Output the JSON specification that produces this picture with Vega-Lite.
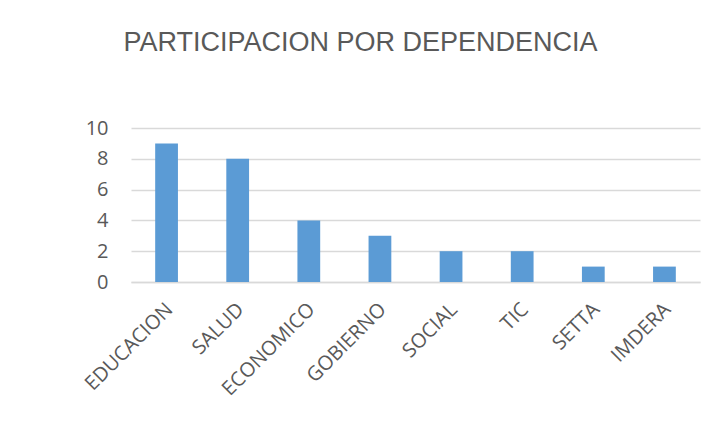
{
  "$schema": "https://vega.github.io/schema/vega-lite/v6.json",
  "autosize": {"type": "none"},
  "width": 569,
  "height": 154,
  "padding": {"left": 131, "top": 128, "right": 5, "bottom": 144},
  "background": "white",
  "title": {
    "text": "PARTICIPACION POR DEPENDENCIA",
    "font": "Liberation Sans",
    "fontSize": 27,
    "fontWeight": "normal",
    "color": "#595959",
    "anchor": "middle",
    "baseline": "alphabetic",
    "dx": -55,
    "offset": 40
  },
  "data": {
    "values": [
      {"dependencia": "EDUCACION", "participacion": 9},
      {"dependencia": "SALUD", "participacion": 8},
      {"dependencia": "ECONOMICO", "participacion": 4},
      {"dependencia": "GOBIERNO", "participacion": 3},
      {"dependencia": "SOCIAL", "participacion": 2},
      {"dependencia": "TIC", "participacion": 2},
      {"dependencia": "SETTA", "participacion": 1},
      {"dependencia": "IMDERA", "participacion": 1}
    ]
  },
  "mark": {"type": "bar", "color": "#5B9BD5"},
  "encoding": {
    "x": {
      "field": "dependencia",
      "type": "nominal",
      "sort": null,
      "scale": {"paddingInner": 0.68, "paddingOuter": 0.34},
      "axis": {
        "title": null,
        "labelAngle": -45,
        "labelAlign": "right",
        "labelBaseline": "top",
        "labelFont": "Open Sans",
        "labelFontSize": 20,
        "labelColor": "#595959",
        "labelPadding": 17,
        "labelOffset": -4,
        "ticks": false,
        "domain": true,
        "domainColor": "#d9d9d9",
        "domainWidth": 1.5,
        "labelOverlap": false
      }
    },
    "y": {
      "field": "participacion",
      "type": "quantitative",
      "scale": {"domain": [0, 10], "nice": false},
      "axis": {
        "title": null,
        "values": [0, 2, 4, 6, 8, 10],
        "labelFont": "Open Sans",
        "labelFontSize": 20,
        "labelColor": "#595959",
        "labelPadding": 23,
        "ticks": false,
        "domain": false,
        "gridColor": "#d9d9d9",
        "gridWidth": 1.5
      }
    }
  },
  "config": {"view": {"stroke": null}}
}
